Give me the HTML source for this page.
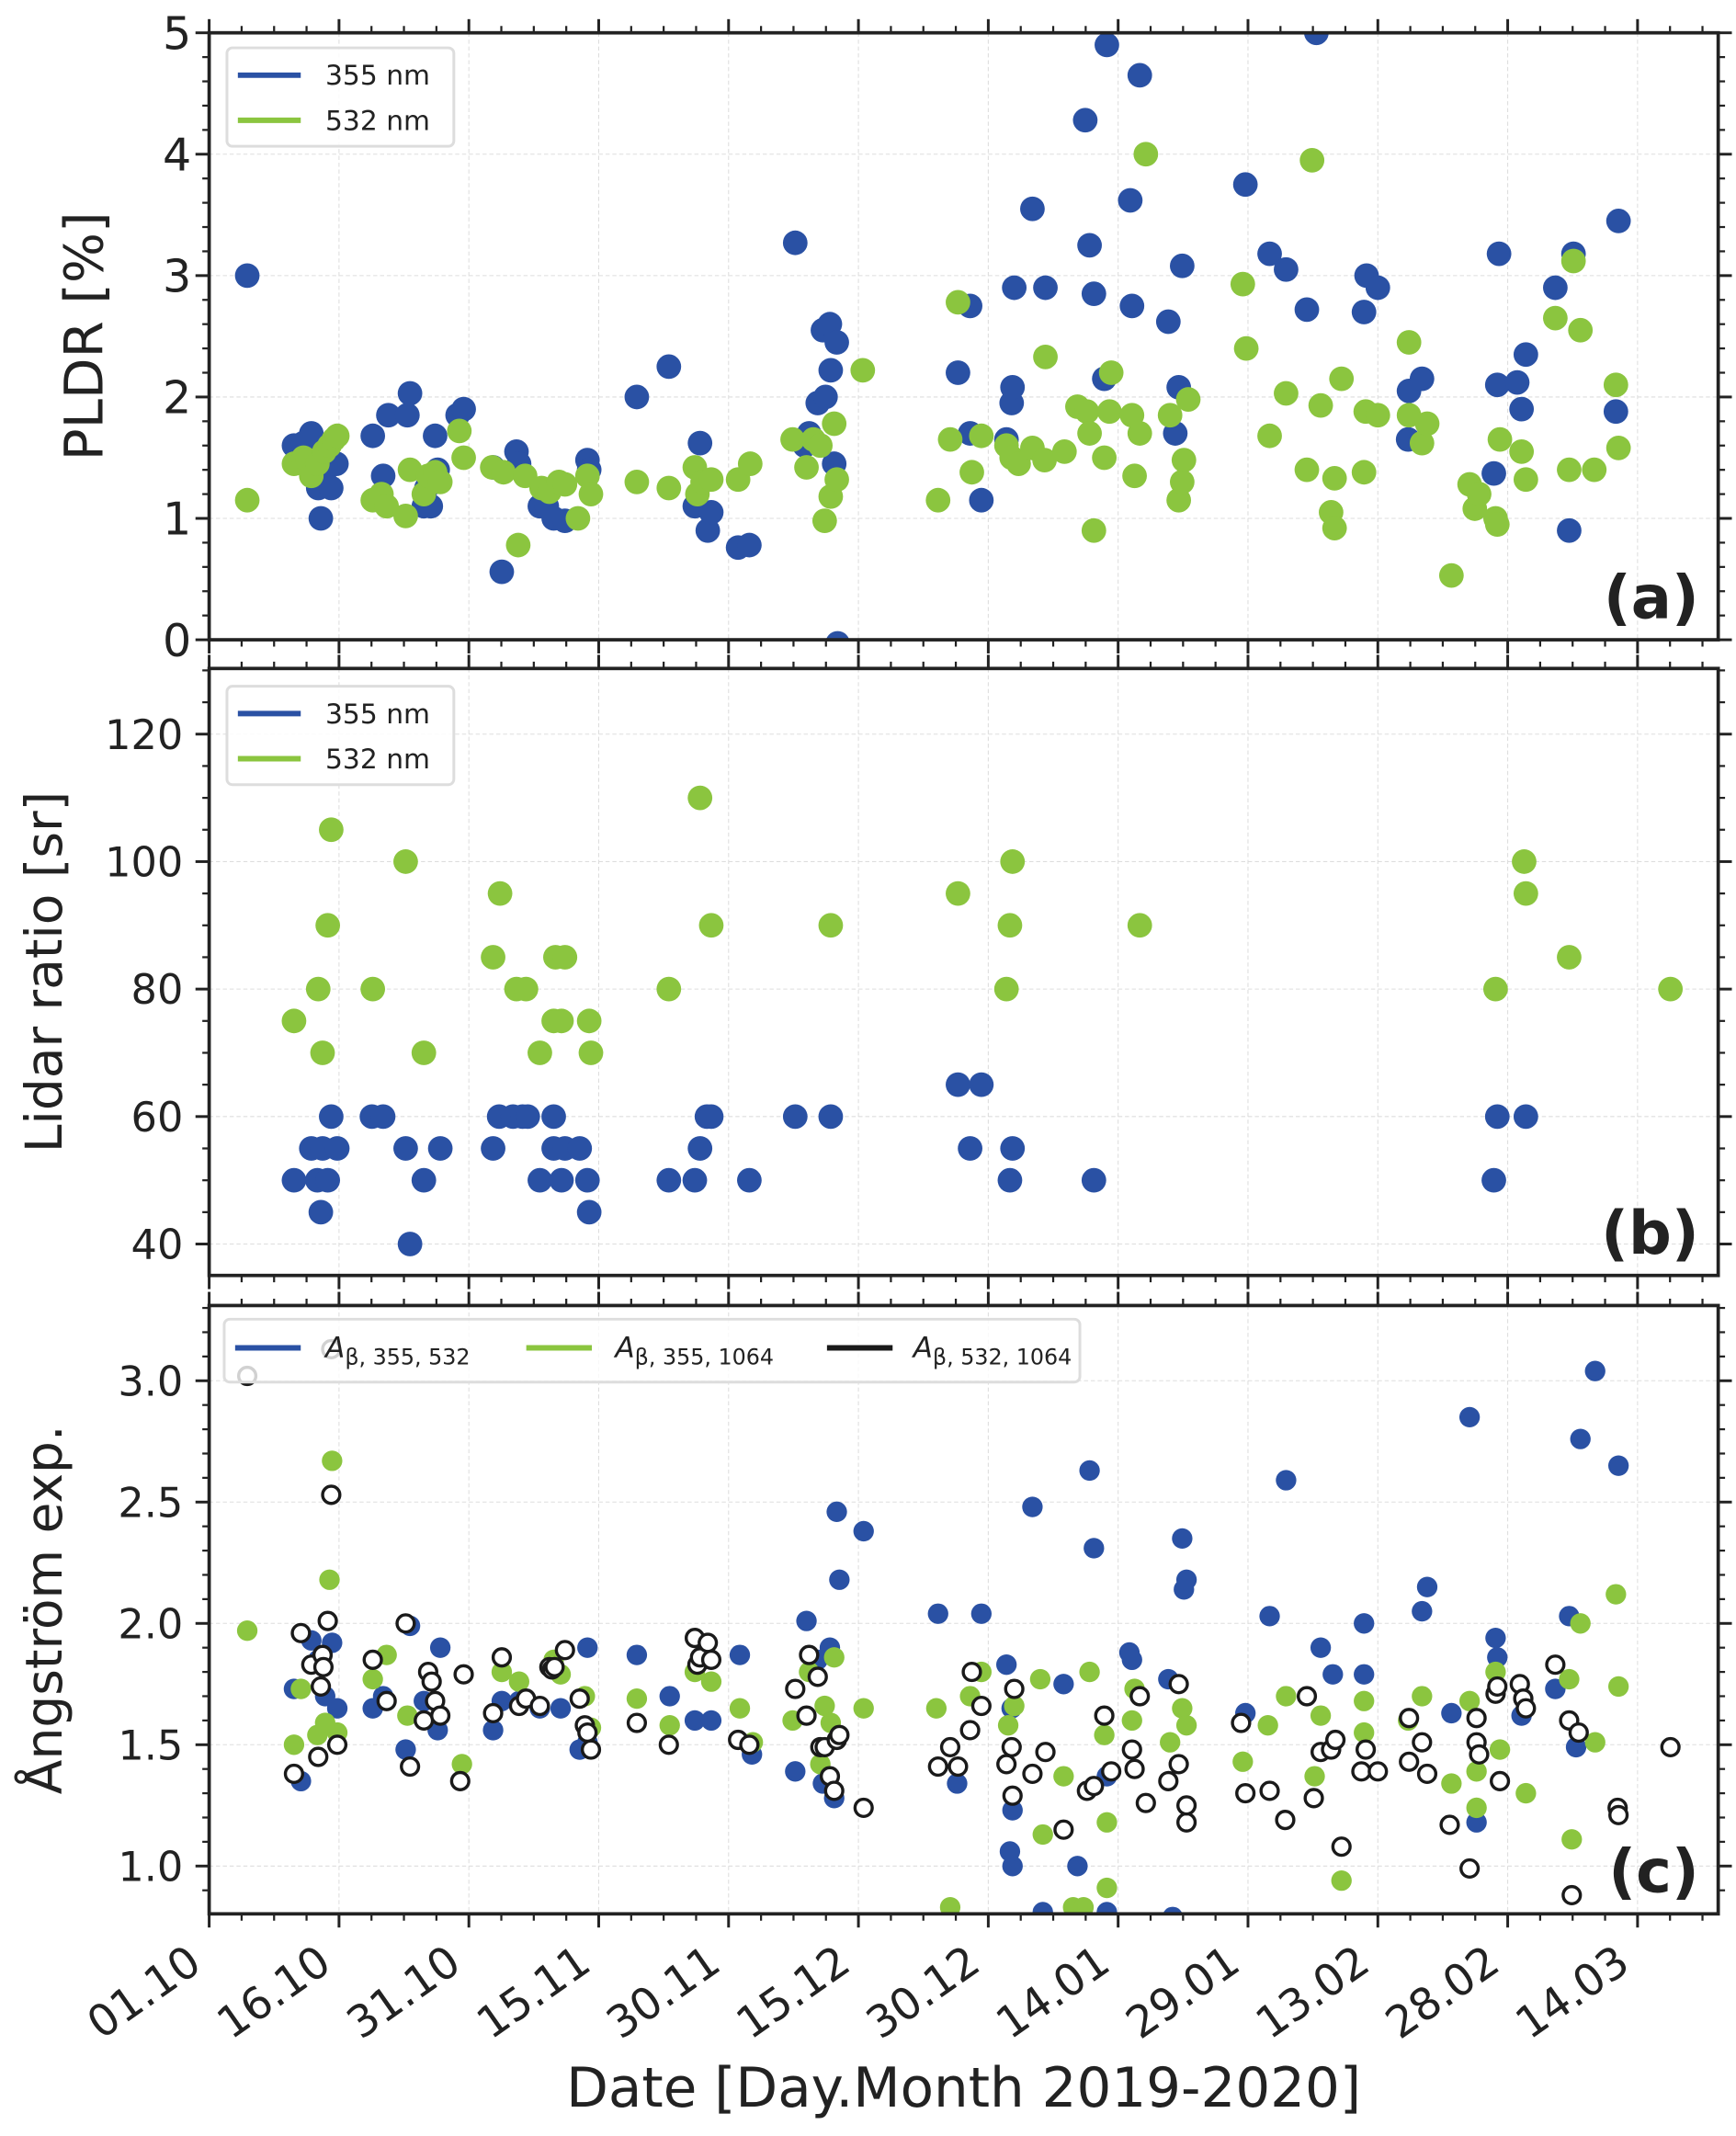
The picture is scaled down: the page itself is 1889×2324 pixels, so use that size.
<!DOCTYPE html>
<html><head><meta charset="utf-8"><style>
html,body{margin:0;padding:0;background:#fff}
svg{display:block}
text{font-family:"DejaVu Sans","Liberation Sans",sans-serif;fill:#222}
</style></head><body>
<svg id="chart" xmlns="http://www.w3.org/2000/svg" width="1889" height="2324" viewBox="0 0 1270 1562.5"></svg>
<script>
// ---------- data (days since 01.10.2019) ----------
const xTickLabels = ["01.10","16.10","31.10","15.11","30.11","15.12","30.12","14.01","29.01","13.02","28.02","14.03"];
const xTickDays = [0,15,30,45,60,75,90,105,120,135,150,165];

const pldr355Days = [4.4,9.8,10.9,11.8,12.2,12.6,12.9,13.4,14.1,14.7,18.9,20.1,20.7,22.9,23.2,24.8,25.1,25.6,26.1,26.4,28.7,29.4,32.8,33.8,35.5,35.8,38.2,39.0,39.8,41.1,43.7,43.9,49.4,53.1,56.1,56.7,57.6,58,61.1,62.4,67.7,68.8,69.3,70.3,70.9,71.2,71.7,71.8,72.2,72.5,72.6,86.5,87.9,87.9,89.2,92.1,92.7,92.8,93,95.1,96.6,101.2,101.7,102.2,103.4,103.7,106.4,106.6,107.5,110.8,111.6,112,112.4,119.7,122.5,124.4,126.8,127.9,133.4,133.7,135,138.5,138.6,140.1,148.4,148.8,149,151.1,151.6,152.1,155.5,157.1,157.6,162.5,162.8];
const pldr355Vals = [3.0,1.6,1.62,1.7,1.45,1.25,1.0,1.3,1.25,1.45,1.68,1.35,1.85,1.85,2.03,1.1,1.25,1.1,1.68,1.4,1.85,1.9,1.42,0.56,1.55,1.45,1.1,1.1,1.0,0.98,1.48,1.4,2.0,2.25,1.1,1.62,0.9,1.05,0.76,0.78,3.27,1.6,1.7,1.95,2.55,2.0,2.6,2.22,1.45,2.45,-0.03,2.2,2.75,1.7,1.15,1.65,1.95,2.08,2.9,3.55,2.9,4.28,3.25,2.85,2.15,4.9,3.62,2.75,4.65,2.62,1.7,2.08,3.08,3.75,3.18,3.05,2.72,5.0,2.7,3.0,2.9,1.65,2.05,2.15,1.37,2.1,3.18,2.12,1.9,2.35,2.9,0.9,3.18,1.88,3.45];
const pldr532Days = [4.4,9.8,10.9,11.4,11.8,12.5,13.3,13.9,14.4,14.8,18.9,19.9,20.5,22.7,23.2,24.8,25.3,26.1,26.7,28.9,29.4,32.7,34,35.7,36.5,38.4,39.3,40.4,41.1,42.6,43.7,44.1,49.4,53.1,56.1,56.4,57,58,61.1,62.5,67.4,69,69.8,70.6,71.1,71.8,72.2,72.5,75.5,84.2,85.6,86.5,88.1,89.2,92.1,92.7,93.5,95.1,96.6,96.5,98.8,100.3,101.4,101.7,102.2,103.4,104,104.2,106.6,106.9,107.5,108.2,111,112,112.4,112.6,113.1,119.4,119.8,122.5,124.4,126.8,127.4,128.4,129.6,130,130,130.8,133.4,133.6,135,138.6,138.6,140.1,140.7,143.5,145.6,146.2,146.7,148.6,148.8,149.1,151.6,152.1,155.5,157.1,157.6,158.4,160,162.5,162.8];
const pldr532Vals = [1.15,1.45,1.5,1.48,1.35,1.45,1.55,1.6,1.65,1.68,1.15,1.2,1.1,1.02,1.4,1.2,1.35,1.38,1.3,1.72,1.5,1.42,1.38,0.78,1.35,1.25,1.22,1.3,1.28,1.0,1.35,1.2,1.3,1.25,1.42,1.2,1.3,1.32,1.32,1.45,1.65,1.42,1.65,1.6,0.98,1.18,1.78,1.32,2.22,1.15,1.65,2.78,1.38,1.68,1.6,1.5,1.45,1.58,2.33,1.48,1.55,1.92,1.88,1.7,0.9,1.5,1.88,2.2,1.85,1.35,1.7,4.0,1.85,1.15,1.3,1.48,1.98,2.93,2.4,1.68,2.03,1.4,3.95,1.93,1.05,0.92,1.33,2.15,1.38,1.88,1.85,2.45,1.85,1.62,1.78,0.53,1.28,1.08,1.2,1.0,0.95,1.65,1.55,1.32,2.65,1.4,3.12,2.55,1.4,2.1,1.58];

const lr355Days = [9.8,11.8,12.5,12.9,13.1,13.7,14.1,14.8,18.8,20.1,22.7,23.2,24.8,26.7,32.8,33.5,35.1,36.2,36.8,38.2,39.8,39.8,40.7,41.1,42.8,43.7,43.9,53.1,56.1,56.7,57.5,58,62.4,67.7,71.8,86.5,87.9,89.2,92.5,92.8,102.2,148.4,148.8,152.1];
const lr355Vals = [50,55,50,45,55,50,60,55,60,60,55,40,50,55,55,60,60,60,60,50,60,55,50,55,55,50,45,50,50,55,60,60,50,60,60,65,55,65,50,55,50,50,60,60];
const lr532Days = [9.8,12.6,13.1,13.7,14.1,18.9,22.7,24.8,32.8,33.6,35.5,36.6,38.2,39.8,40,40.7,41.1,43.9,44.1,53.1,56.7,58,71.8,86.5,92.1,92.5,92.8,107.5,148.6,151.9,152.1,157.1,168.8];
const lr532Vals = [75,80,70,90,105,80,100,70,85,95,80,80,70,75,85,75,85,75,70,80,110,90,90,95,80,90,100,90,80,100,95,85,80];

const ang1Days = [9.8,10.6,11.8,12.6,13.4,14.2,14.8,18.9,20.1,22.7,23.2,24.8,26.7,26.4,32.8,33.8,35.8,38.2,40.6,43.7,43.7,42.8,49.4,53.2,56.1,58,61.3,62.7,67.7,69,70.3,70.9,71.7,72.2,72.5,72.8,75.6,84.2,86.4,89.2,92.1,92.7,92.8,92.8,92.5,95.1,96.3,98.7,100.3,101.7,102.2,103.7,106.3,106.6,103.7,110.8,112.4,112.9,112.6,111.3,119.7,122.5,124.4,128.4,129.8,133.4,133.4,140.1,140.7,143.5,145.6,146.4,148.6,148.8,151.6,155.5,157.1,157.9,158.4,160.1,162.8];
const ang1Vals = [1.73,1.35,1.93,1.85,1.70,1.92,1.65,1.65,1.70,1.48,1.99,1.68,1.90,1.56,1.56,1.68,1.68,1.65,1.65,1.90,1.51,1.48,1.87,1.70,1.60,1.60,1.87,1.46,1.39,2.01,1.85,1.34,1.90,1.28,2.46,2.18,2.38,2.04,1.34,2.04,1.83,1.65,1.23,1.0,1.06,2.48,0.81,1.75,1.0,2.63,2.31,0.81,1.88,1.85,1.37,1.77,2.35,2.18,2.14,0.79,1.63,2.03,2.59,1.90,1.79,2.00,1.79,2.05,2.15,1.63,2.85,1.18,1.94,1.86,1.62,1.73,2.03,1.49,2.76,3.04,2.65];
const ang2Days = [4.4,9.8,10.6,12.5,13.9,14.2,14.8,13.4,18.9,20.5,22.9,29.2,33.8,35.8,39.8,40.6,43.4,44.1,49.4,53.2,56.1,58,61.3,62.8,67.4,69.3,70.6,71.1,71.8,72.2,75.6,84,85.6,87.9,89.2,92.3,93,96,96.3,98.7,99.8,101,101.7,103.7,103.4,103.7,106.6,106.9,111,112.4,112.9,119.4,122.3,124.4,127.7,128.4,130.8,133.4,133.4,138.5,140.1,143.5,145.6,146.4,146.4,148.6,149.1,152.1,157.1,157.4,158.4,160.1,162.8,162.5];
const ang2Vals = [1.97,1.50,1.73,1.54,2.18,2.67,1.55,1.59,1.77,1.87,1.62,1.42,1.80,1.76,1.85,1.79,1.70,1.57,1.69,1.58,1.80,1.76,1.65,1.51,1.60,1.80,1.42,1.66,1.59,1.86,1.65,1.65,0.83,1.70,1.80,1.58,1.66,1.77,1.13,1.37,0.83,0.83,1.80,1.18,1.54,0.91,1.60,1.73,1.51,1.65,1.58,1.43,1.58,1.70,1.37,1.62,0.94,1.68,1.55,1.60,1.70,1.34,1.68,1.24,1.39,1.80,1.48,1.30,1.77,1.11,2.00,1.51,1.74,2.12];
const ang3Days = [4.4,14.1,9.8,10.6,11.8,12.6,13.1,13.2,13.7,14.1,14.8,12.9,18.9,20.5,22.7,23.2,24.8,25.3,25.7,26.1,26.7,29,29.4,32.8,33.8,35.8,36.6,38.2,39.3,39.6,39.9,41.1,42.8,43.4,43.7,44.1,49.4,53.1,56.1,56.4,56.7,57.6,58,61.1,62.4,67.7,69,69.3,70.3,70.6,71.1,71.7,72.2,72.5,72.8,75.6,84.2,85.6,86.5,87.9,88.1,89.2,92.1,92.7,92.8,93,95.1,96.6,98.7,101.4,102.2,103.4,104.2,106.9,106.6,107.5,108.2,110.8,112,112,112.9,112.9,119.2,119.7,122.5,124.3,126.8,127.6,128.4,129.6,130.1,130.8,133.1,133.6,135,138.6,138.6,140.1,140.7,143.3,145.6,146.4,146.4,146.7,148.6,148.8,149.1,151.4,151.8,152.1,155.5,157.1,157.4,158.2,162.7,162.8,168.8];
const ang3Vals = [3.02,3.13,1.38,1.96,1.83,1.45,1.87,1.82,2.01,2.53,1.50,1.74,1.85,1.68,2.00,1.41,1.60,1.80,1.76,1.68,1.62,1.35,1.79,1.63,1.86,1.66,1.69,1.66,1.82,1.81,1.82,1.89,1.69,1.58,1.55,1.48,1.59,1.50,1.94,1.83,1.86,1.92,1.85,1.52,1.50,1.73,1.62,1.87,1.78,1.49,1.49,1.37,1.31,1.52,1.54,1.24,1.41,1.49,1.41,1.56,1.80,1.66,1.42,1.49,1.29,1.73,1.38,1.47,1.15,1.31,1.33,1.62,1.39,1.40,1.48,1.70,1.26,1.35,1.42,1.75,1.18,1.25,1.59,1.30,1.31,1.19,1.70,1.28,1.47,1.48,1.52,1.08,1.39,1.48,1.39,1.61,1.43,1.51,1.38,1.17,0.99,1.61,1.51,1.46,1.71,1.74,1.35,1.75,1.69,1.65,1.83,1.60,0.88,1.55,1.24,1.21,1.49];

// ---------- layout ----------
const NS = "http://www.w3.org/2000/svg";
const svg = document.getElementById('chart');
const L = 153, R = 1257, X0 = 0, PXD = 6.3333;
const BLUE = "#2a51a4", GREEN = "#8bc53f";
function xs(d){ return L + (d - X0) * PXD; }
function el(tag, attrs, parent){
  const e = document.createElementNS(NS, tag);
  for (const k in attrs) e.setAttribute(k, attrs[k]);
  (parent || svg).appendChild(e);
  return e;
}
const panels = [
  {id:'a', top:24, bot:468, ymin:0, ymax:5, major:[0,1,2,3,4,5], minorStep:0.2, fmt:v=>String(v), fs:33, lx:140, title:"PLDR [%]", tfs:39, tx:75},
  {id:'b', top:489, bot:933, ymin:35.07, ymax:130.3, major:[40,60,80,100,120], minorStep:5, fmt:v=>String(v), fs:30, lx:134, title:"Lidar ratio [sr]", tfs:37, tx:45},
  {id:'c', top:955, bot:1400, ymin:0.803, ymax:3.31, major:[1.0,1.5,2.0,2.5,3.0], minorStep:0.1, fmt:v=>v.toFixed(1), fs:30, lx:134, title:"Ångström exp.", tfs:37, tx:45}
];
function ysFor(p){ return v => p.bot - (v - p.ymin) / (p.ymax - p.ymin) * (p.bot - p.top); }

panels.forEach((p, pi) => {
  const ys = ysFor(p);
  const g = el('g', {});
  
  
  const defs = el('defs', {}, g);
  const cp = el('clipPath', {id:'clip' + p.id}, defs);
  el('rect', {x:L, y:p.top, width:R-L, height:p.bot-p.top}, cp);
  xTickDays.forEach(d => {
    const gl = el('line', {x1:xs(d), x2:xs(d), y1:p.top, y2:p.bot, stroke:'#ddd', 'stroke-width':0.7, 'stroke-dasharray':'3,2'}, g);
    
    
  });
  p.major.forEach(v => {
    const gl = el('line', {x1:L, x2:R, y1:ys(v), y2:ys(v), stroke:'#ddd', 'stroke-width':0.7, 'stroke-dasharray':'3,2'}, g);
    
    
  });
  for (let d = 0; d <= 174; d += 3.75) {
    const isMaj = Math.abs(d/15 - Math.round(d/15)) < 1e-6;
    const len = isMaj ? 10 : 5;
    el('line', {x1:xs(d), x2:xs(d), y1:p.top, y2:p.top-len, stroke:'#222', 'stroke-width':isMaj?2:1.5}, g);
    el('line', {x1:xs(d), x2:xs(d), y1:p.bot, y2:p.bot+len, stroke:'#222', 'stroke-width':isMaj?2:1.5}, g);
  }
  const start = Math.ceil(p.ymin / p.minorStep) * p.minorStep;
  for (let v = start; v <= p.ymax + 1e-9; v += p.minorStep) {
    const isMaj = p.major.some(m => Math.abs(m - v) < 1e-6);
    const len = isMaj ? 10 : 5;
    el('line', {x1:L, x2:L-len, y1:ys(v), y2:ys(v), stroke:'#222', 'stroke-width':isMaj?2:1.5}, g);
    el('line', {x1:R, x2:R+len, y1:ys(v), y2:ys(v), stroke:'#222', 'stroke-width':isMaj?2:1.5}, g);
  }
  p.major.forEach(v => {
    const t = el('text', {x:p.lx, y:ys(v) + p.fs*0.36, 'text-anchor':'end', 'font-size':p.fs}, g);
    t.textContent = p.fmt(v);
    
    
  });
  const tt = el('text', {x:p.tx, y:(p.top+p.bot)/2, 'text-anchor':'middle', 'font-size':p.tfs, transform:`rotate(-90 ${p.tx} ${(p.top+p.bot)/2})`}, g);
  tt.textContent = p.title;
  
  
  p.g = g; p.ys = ys;
});

function scatter(p, days, vals, color, r, name, open){
  const g = el('g', {'clip-path':'url(#clip' + p.id + ')'}, p.g);
  
  
  days.forEach((d, i) => {
    const c = el('circle', open ?
      {cx:xs(d), cy:p.ys(vals[i]), r:r, fill:'#fff', stroke:'#1a1a1a', 'stroke-width':2.3} :
      {cx:xs(d), cy:p.ys(vals[i]), r:r, fill:color}, g);
    
    
  });
}
scatter(panels[0], pldr355Days, pldr355Vals, BLUE, 9, 'pldr-355-series');
scatter(panels[0], pldr532Days, pldr532Vals, GREEN, 9, 'pldr-532-series');
scatter(panels[1], lr355Days, lr355Vals, BLUE, 9, 'lidar-ratio-355-series');
scatter(panels[1], lr532Days, lr532Vals, GREEN, 9, 'lidar-ratio-532-series');
scatter(panels[2], ang1Days, ang1Vals, BLUE, 7.5, 'angstrom-355-532-series');
scatter(panels[2], ang2Days, ang2Vals, GREEN, 7.5, 'angstrom-355-1064-series');
scatter(panels[2], ang3Days, ang3Vals, null, 6.3, 'angstrom-532-1064-series', true);

panels.forEach(p => {
  const f = el('rect', {x:L, y:p.top, width:R-L, height:p.bot-p.top, fill:'none', stroke:'#222', 'stroke-width':2.5}, p.g);
  
  
  const lt = el('text', {x:1243, y:p.bot-16, 'text-anchor':'end', 'font-size':44, 'font-weight':'bold', 'font-family':'"Liberation Sans",sans-serif'}, p.g);
  lt.textContent = '(' + p.id + ')';
  
  
});
function legend2(p, y0){
  const lg = el('g', {}, p.g);
  
  
  el('rect', {x:166, y:y0, width:166, height:72, rx:4, fill:'#fff', 'fill-opacity':0.85, stroke:'#ddd', 'stroke-width':2}, lg);
  [[BLUE,'355 nm',y0+20],[GREEN,'532 nm',y0+53]].forEach(e => {
    el('line', {x1:174, x2:220, y1:e[2], y2:e[2], stroke:e[0], 'stroke-width':4}, lg);
    const t = el('text', {x:238, y:e[2]+7, 'font-size':20}, lg);
    t.textContent = e[1];
    
    
  });
}
legend2(panels[0], 35);
legend2(panels[1], 502);
(function(){
  const p = panels[2];
  const lg = el('g', {}, p.g);
  
  
  el('rect', {x:164, y:965, width:626, height:46, rx:4, fill:'#fff', 'fill-opacity':0.8, stroke:'#ddd', 'stroke-width':2}, lg);
  [[BLUE,172,238,'355, 532'],[GREEN,385,450,'355, 1064'],['#1a1a1a',605,668,'532, 1064']].forEach(e => {
    el('line', {x1:e[1], x2:e[1]+48, y1:986, y2:986, stroke:e[0], 'stroke-width':4}, lg);
    const t = el('text', {x:e[2], y:993, 'font-size':21}, lg);
    
    
    const a = el('tspan', {'font-style':'italic'}, t); a.textContent = 'A';
    const s = el('tspan', {'font-size':16, dy:5}, t); s.textContent = 'β, ' + e[3];
  });
})();

xTickDays.forEach((d, i) => {
  const x = xs(d) - 4, y = 1440;
  const t = el('text', {x:x, y:y, 'text-anchor':'end', 'font-size':32, transform:`rotate(-35 ${x} ${y})`});
  t.textContent = xTickLabels[i];
  
  
});
const xt = el('text', {x:705, y:1541, 'text-anchor':'middle', 'font-size':40});
xt.textContent = 'Date [Day.Month 2019-2020]';


</script>
</body></html>
